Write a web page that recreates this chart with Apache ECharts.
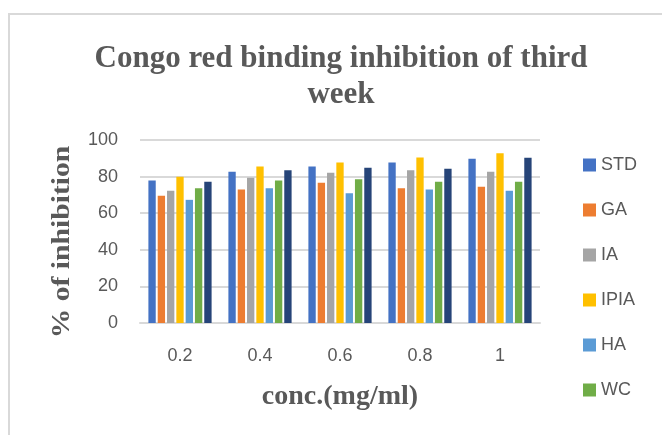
<!DOCTYPE html>
<html>
<head>
<meta charset="utf-8">
<script src="https://cdn.jsdelivr.net/npm/echarts@6/dist/echarts.min.js"></script>
<style>
html,body{margin:0;padding:0;background:#fff;}
#frame{position:absolute;left:8px;top:13px;width:700px;height:460px;border:2px solid #d9d9d9;box-sizing:border-box;}
#chart{position:absolute;left:0;top:0;width:662px;height:435px;}
</style>
</head>
<body>
<div id="frame"></div>
<div id="chart"></div>
<script>
const categories = ['0.2', '0.4', '0.6', '0.8', '1'];
const seriesNames = ['STD', 'GA', 'IA', 'IPIA', 'HA', 'WC', 'AA'];
const legendNames = ['STD', 'GA', 'IA', 'IPIA', 'HA', 'WC'];
const STD  = [77.9, 82.6, 85.5, 87.7, 89.8];
const GA   = [69.5, 73.0, 76.6, 73.7, 74.4];
const IA   = [72.2, 79.4, 82.1, 83.5, 82.6];
const IPIA = [79.9, 85.5, 87.7, 90.5, 92.7];
const HA   = [67.3, 73.7, 70.9, 73.0, 72.2];
const WC   = [73.7, 77.9, 78.6, 77.2, 77.2];
const AA   = [77.2, 83.5, 84.8, 84.3, 90.3];
const yTicks = [0, 20, 40, 60, 80, 100];
const colors = ['#4472C4', '#ED7D31', '#A5A5A5', '#FFC000', '#5B9BD5', '#70AD47', '#264478'];
const values = [STD, GA, IA, IPIA, HA, WC, AA];

const chart = echarts.init(document.getElementById('chart'), null, {renderer: 'canvas'});
const option = {
  animation: false,
  backgroundColor: 'transparent',
  title: {
    text: 'Congo red binding inhibition of third\nweek',
    left: 336, top: 36, textAlign: 'center',
    textStyle: {fontFamily: 'Liberation Serif', fontWeight: 'bold', fontSize: 31, lineHeight: 36, color: '#595959'}
  },
  graphic: [{
    type: 'text', x: 62, y: 242, rotation: Math.PI / 2, scaleX: 1.14,
    style: {text: '% of inhibition', fontFamily: 'Liberation Serif', fontWeight: 'bold', fontSize: 26,
      fill: '#595959', align: 'center', verticalAlign: 'middle'}
  }],
  legend: {
    data: legendNames,
    orient: 'vertical',
    left: 578, top: 151,
    itemWidth: 13, itemHeight: 13, itemGap: 27,
    icon: 'rect',
    textStyle: {fontFamily: 'Liberation Sans', fontSize: 18, lineHeight: 18, color: '#595959'}
  },
  grid: {left: 140, right: 122, top: 140, bottom: 112, containLabel: false},
  xAxis: {
    type: 'category', data: categories,
    name: 'conc.(mg/ml)', nameLocation: 'middle', nameGap: 60,
    nameTextStyle: {fontFamily: 'Liberation Serif', fontWeight: 'bold', fontSize: 28, color: '#595959'},
    axisLine: {lineStyle: {color: '#d9d9d9', width: 2}},
    axisTick: {show: false},
    axisLabel: {margin: 24, fontFamily: 'Liberation Sans', fontSize: 18, color: '#595959'}
  },
  yAxis: {
    type: 'value', min: 0, max: 100, interval: 20,
    axisLine: {show: false}, axisTick: {show: false},
    axisLabel: {margin: 22, fontFamily: 'Liberation Sans', fontSize: 18, color: '#595959',
      formatter: v => yTicks.includes(v) ? String(v) : ''},
    splitLine: {lineStyle: {color: '#d9d9d9', width: 2}}
  },
  series: seriesNames.map((n, i) => ({
    name: n, type: 'bar', data: values[i],
    barCategoryGap: '21%', barGap: '27%',
    itemStyle: {color: colors[i]}
  }))
};
chart.setOption(option);
</script>
</body>
</html>
